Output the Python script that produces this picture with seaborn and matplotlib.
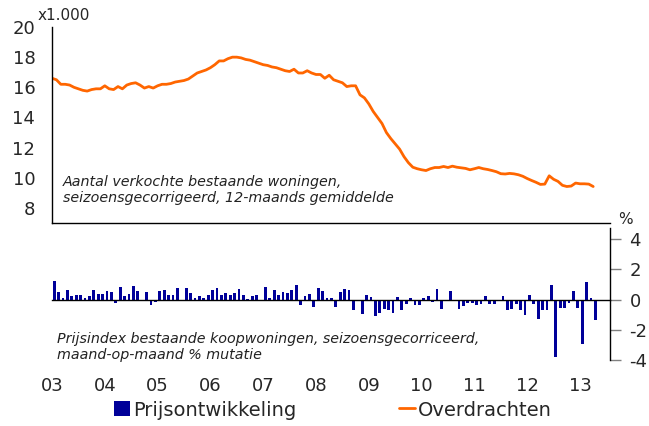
import numpy as np
import pandas as pd
import matplotlib
matplotlib.use("Agg")
import matplotlib.pyplot as plt
import seaborn as sns
from matplotlib.patches import Patch
from matplotlib.lines import Line2D

# -------------------------------
# Data (monthly, jan 2003 - apr 2013)
# -------------------------------

start_year = 2003
year_ticks = list(range(2003, 2014))
year_labels = ["03", "04", "05", "06", "07", "08", "09", "10", "11", "12", "13"]

# Overdrachten, x1.000, 12-maands gemiddelde
overdrachten = [
    16.6, 16.5, 16.2, 16.2, 16.15, 16.0, 15.9, 15.8, 15.75, 15.85, 15.9, 15.9,
    16.1, 15.9, 15.85, 16.05, 15.9, 16.15, 16.25, 16.3, 16.15, 15.95, 16.05, 15.95,
    16.1, 16.2, 16.2, 16.25, 16.35, 16.4, 16.45, 16.55, 16.75, 16.95, 17.05, 17.15,
    17.3, 17.5, 17.75, 17.75, 17.9, 18.0, 18.0, 17.95, 17.85, 17.8, 17.7, 17.6,
    17.5, 17.45, 17.35, 17.3, 17.2, 17.1, 17.05, 17.2, 16.95, 16.95, 17.1, 16.95,
    16.85, 16.85, 16.6, 16.8, 16.5, 16.4, 16.3, 16.05, 16.1, 16.1, 15.5, 15.3,
    14.9, 14.4, 14.0, 13.6, 13.0, 12.6, 12.25, 11.9, 11.4, 11.0, 10.7, 10.6,
    10.53, 10.48, 10.6, 10.68, 10.68, 10.75, 10.68, 10.77, 10.7, 10.66, 10.62, 10.53,
    10.6, 10.68, 10.6, 10.55, 10.48, 10.4, 10.27, 10.25, 10.29, 10.26, 10.2, 10.1,
    9.95, 9.82, 9.7, 9.56, 9.58, 10.13, 9.9, 9.76, 9.5, 9.42, 9.45, 9.65,
    9.6, 9.6, 9.58, 9.42,
]

# Prijsontwikkeling, maand-op-maand % mutatie
prijs = [
    1.2, 0.47, 0.13, 0.6, 0.22, 0.33, 0.33, 0.13, 0.22, 0.6, 0.35, 0.35,
    0.55, 0.47, -0.2, 0.8, 0.22, 0.35, 0.9, 0.55, -0.07, 0.47, -0.33, -0.15,
    0.55, 0.65, 0.33, 0.33, 0.75, -0.07, 0.75, 0.4, 0.11, 0.22, 0.13, 0.3,
    0.62, 0.73, 0.3, 0.4, 0.3, 0.4, 0.7, 0.3, 0.02, 0.2, 0.3, -0.09,
    0.8, 0.11, 0.6, 0.3, 0.47, 0.45, 0.6, 0.95, -0.38, 0.2, 0.35, -0.47,
    0.78, 0.58, 0.09, 0.09, -0.47, 0.47, 0.7, 0.62, -0.67, 0.0, -0.93, 0.29,
    0.18, -1.1, -0.87, -0.6, -0.67, -0.89, 0.18, -0.67, -0.27, 0.07, -0.38, -0.38,
    0.07, 0.22, -0.18, 0.69, -0.6, -0.09, 0.58, 0.0, -0.6, -0.46, -0.22, -0.2,
    -0.33, -0.27, 0.2, -0.27, -0.27, -0.09, 0.2, -0.71, -0.6, -0.31, -0.71, -1.04,
    0.31, -0.31, -1.27, -0.71, -0.67, 0.96, -3.78, -0.53, -0.53, -0.22, 0.56, -0.53,
    -2.93, 1.16, 0.13, -1.38,
]

months = np.arange(len(overdrachten))
df_line = pd.DataFrame({"jaar": start_year + months / 12, "overdrachten": overdrachten})
df_bar = pd.DataFrame({"jaar": start_year + (months + 0.5) / 12, "prijs": prijs})

# -------------------------------
# Plot
# -------------------------------

sns.set_style("white")
plt.rcParams["font.family"] = ["DejaVu Sans"]
plt.rcParams["axes.unicode_minus"] = False

orange = "#FF6600"
blue = "#000099"
grey = "#808080"

fig = plt.figure(figsize=(6.49, 4.26), dpi=100)
ax1 = fig.add_axes([52 / 649, 1 - 223 / 426, 558 / 649, 196 / 426])
ax2 = fig.add_axes([52 / 649, 1 - 360 / 426, 558 / 649, 132 / 426])
xmax = start_year + 558 / 52.8

# top panel: overdrachten
sns.lineplot(data=df_line, x="jaar", y="overdrachten", color=orange, linewidth=2, ax=ax1)
ax1.set_xlim(start_year, xmax)
ax1.set_ylim(7, 20)
ax1.set_yticks(range(8, 21, 2))
ax1.set_xticks(year_ticks)
ax1.set_xlabel("")
ax1.set_ylabel("")
ax1.tick_params(axis="x", direction="out", length=6, width=1, color=grey, labelbottom=False)
ax1.tick_params(axis="y", direction="out", length=8, width=1, color=grey, labelsize=13, pad=4)
for s in ["top", "right"]:
    ax1.spines[s].set_visible(False)
for s in ["left", "bottom"]:
    ax1.spines[s].set_color("black")
    ax1.spines[s].set_linewidth(1)
ax1.patch.set_alpha(0)

# bottom panel: prijsontwikkeling
sns.barplot(data=df_bar, x="jaar", y="prijs", native_scale=True, color=blue,
            saturation=1, width=0.6, errorbar=None, linewidth=0, ax=ax2)
ax2.set_xlim(start_year, xmax)
ax2.set_ylim(-4, 4.73)
ax2.set_yticks([-4, -2, 0, 2, 4])
ax2.set_yticklabels(["-4", "-2", "0", "2", "4"])
ax2.yaxis.tick_right()
ax2.set_xticks(year_ticks)
ax2.set_xticklabels(year_labels)
ax2.set_xlabel("")
ax2.set_ylabel("")
ax2.spines["bottom"].set_position(("data", 0))
ax2.tick_params(axis="x", direction="out", length=6, width=1, color=grey, labelsize=13, pad=50)
ax2.tick_params(axis="y", direction="out", length=8, width=1, color=grey, labelsize=13, pad=6)
for s in ["top", "left"]:
    ax2.spines[s].set_visible(False)
for s in ["right", "bottom"]:
    ax2.spines[s].set_color("black")
    ax2.spines[s].set_linewidth(1)
ax2.patch.set_alpha(0)

# labels
fig.text(38 / 649, 1 - 15 / 426, "x1.000", ha="left", va="center", fontsize=11)
fig.text(625 / 649, 1 - 219 / 426, "%", ha="center", va="center", fontsize=11)
fig.text(63 / 649, 1 - 190 / 426,
         "Aantal verkochte bestaande woningen,\nseizoensgecorrigeerd, 12-maands gemiddelde",
         ha="left", va="center", fontsize=10.3, style="italic", color="#222222")
fig.text(57 / 649, 1 - 347 / 426,
         "Prijsindex bestaande koopwoningen, seizoensgecorriceerd,\nmaand-op-maand % mutatie",
         ha="left", va="center", fontsize=10.3, style="italic", color="#222222")

# legend
handles = [Patch(facecolor=blue, edgecolor="none"), Line2D([0], [0], color=orange, linewidth=2)]
fig.legend(handles, ["Prijsontwikkeling", "Overdrachten"], loc="center",
           bbox_to_anchor=(333 / 649, 1 - 410 / 426), ncol=2, frameon=False, fontsize=14,
           handlelength=0.8, handleheight=0.8, handletextpad=0.15, columnspacing=5.3)

plt.savefig("out.png", dpi=100)
